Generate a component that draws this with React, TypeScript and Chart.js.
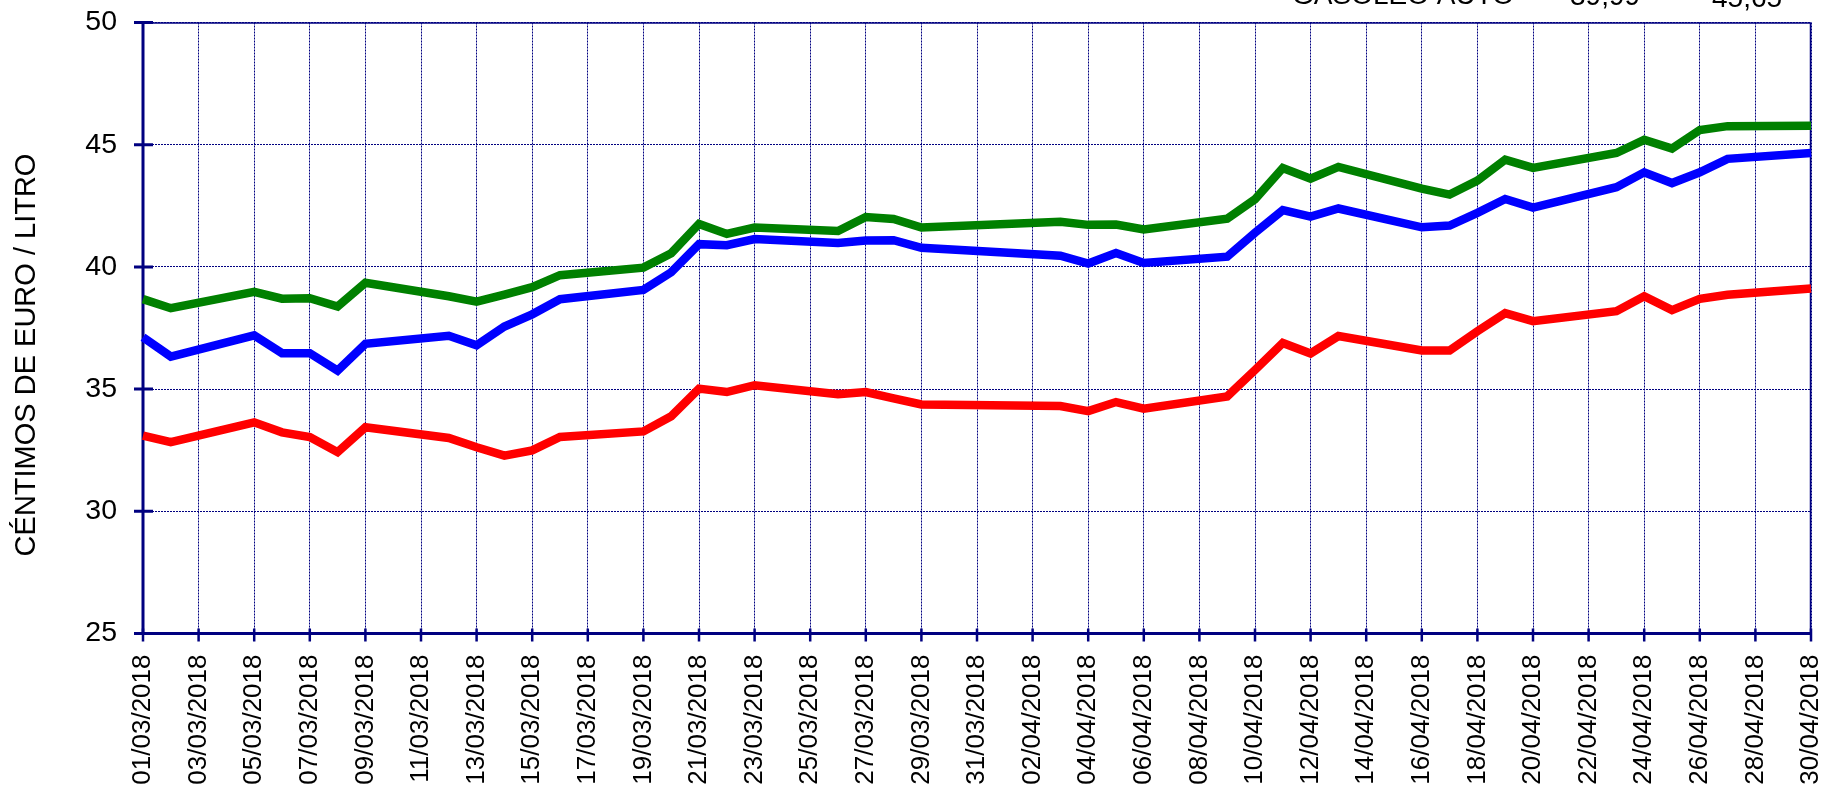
import React, { useEffect, useRef } from "react";
import { Chart, registerables } from "chart.js";

Chart.register(...registerables);

const dates: string[] = [
  "01/03/2018","02/03/2018","03/03/2018","04/03/2018","05/03/2018","06/03/2018","07/03/2018","08/03/2018","09/03/2018","10/03/2018",
  "11/03/2018","12/03/2018","13/03/2018","14/03/2018","15/03/2018","16/03/2018","17/03/2018","18/03/2018","19/03/2018","20/03/2018",
  "21/03/2018","22/03/2018","23/03/2018","24/03/2018","25/03/2018","26/03/2018","27/03/2018","28/03/2018","29/03/2018","30/03/2018",
  "31/03/2018","01/04/2018","02/04/2018","03/04/2018","04/04/2018","05/04/2018","06/04/2018","07/04/2018","08/04/2018","09/04/2018",
  "10/04/2018","11/04/2018","12/04/2018","13/04/2018","14/04/2018","15/04/2018","16/04/2018","17/04/2018","18/04/2018","19/04/2018",
  "20/04/2018","21/04/2018","22/04/2018","23/04/2018","24/04/2018","25/04/2018","26/04/2018","27/04/2018","28/04/2018","29/04/2018",
  "30/04/2018",
];

const N = null;

// Green series
const greenValues: (number | null)[] = [
  38.68, 38.31, N, N, 38.98, 38.70, 38.72, 38.38, 39.35, N,
  N, 38.80, 38.58, 38.87, 39.17, 39.66, N, N, 39.97, 40.56,
  41.76, 41.35, 41.61, N, N, 41.47, 42.04, 41.96, 41.61, N,
  N, N, N, 41.85, 41.72, 41.73, 41.53, N, N, 41.97,
  42.77, 44.05, 43.61, 44.09, N, N, 43.20, 42.96, 43.53, 44.39,
  44.05, N, N, 44.66, 45.20, 44.84, 45.60, 45.76, N, N,
  45.78,
];

// Blue series
const blueValues: (number | null)[] = [
  37.12, 36.33, N, N, 37.20, 36.47, 36.47, 35.76, 36.85, N,
  N, 37.18, 36.79, 37.56, 38.06, 38.68, N, N, 39.06, 39.78,
  40.93, 40.89, 41.14, N, N, 40.98, 41.08, 41.09, 40.78, N,
  N, N, N, 40.46, 40.14, 40.57, 40.16, N, N, 40.42,
  41.40, 42.32, 42.06, 42.39, N, N, 41.62, 41.69, 42.21, 42.78,
  42.43, N, N, 43.26, 43.87, 43.43, 43.87, 44.42, N, N,
  44.66,
];

// Red series
const redValues: (number | null)[] = [
  33.10, 32.83, N, N, 33.64, 33.23, 33.04, 32.42, 33.44, N,
  N, 33.00, 32.62, 32.28, 32.49, 33.04, N, N, 33.27, 33.89,
  35.02, 34.88, 35.16, N, N, 34.79, 34.88, 34.62, 34.37, N,
  N, N, N, 34.31, 34.10, 34.47, 34.20, N, N, 34.70,
  35.78, 36.89, 36.46, 37.17, N, N, 36.58, 36.58, 37.37, 38.11,
  37.78, N, N, 38.19, 38.80, 38.23, 38.69, 38.86, N, N,
  39.12,
];

const yTicks: number[] = [25, 30, 35, 40, 45, 50];
const yTitle = "CÉNTIMOS DE EURO / LITRO";
const headerTexts: string[] = ["GASÓLEO AUTO", "39,99", "45,65"];

const FONT = "'Liberation Sans', Arial, sans-serif";
const NAVY = "#000080";

export default function App() {
  const ref = useRef<HTMLCanvasElement | null>(null);

  useEffect(() => {
    const canvas = ref.current;
    if (!canvas) return;

    const axesPlugin = {
      id: "axesPlugin",
      beforeDatasetsDraw(chart: any) {
        const { ctx, chartArea } = chart;
        const { left, right, top, bottom } = chartArea;
        const ys = chart.scales.y;
        const xs = chart.scales.x;
        ctx.save();
        ctx.setLineDash([]);
        ctx.strokeStyle = NAVY;
        ctx.lineWidth = 1.5;
        ctx.beginPath();
        ctx.moveTo(left, top + 0.5);
        ctx.lineTo(right, top + 0.5);
        ctx.moveTo(right - 0.5, top);
        ctx.lineTo(right - 0.5, bottom);
        ctx.stroke();
        ctx.lineWidth = 3;
        ctx.beginPath();
        ctx.moveTo(left, top);
        ctx.lineTo(left, bottom);
        ctx.moveTo(left - 9, bottom);
        ctx.lineTo(right, bottom);
        ctx.stroke();
        ctx.beginPath();
        for (const v of yTicks) {
          const y = ys.getPixelForValue(v);
          ctx.moveTo(left - 9, y);
          ctx.lineTo(left + 10, y);
        }
        ctx.stroke();
        ctx.lineWidth = 2.5;
        ctx.beginPath();
        for (let i = 0; i < dates.length; i += 2) {
          const x = xs.getPixelForValue(i);
          ctx.moveTo(x, bottom - 5);
          ctx.lineTo(x, bottom + 8);
        }
        ctx.stroke();
        ctx.restore();
      },
      afterDraw(chart: any) {
        const { ctx } = chart;
        ctx.save();
        ctx.fillStyle = "#000";
        ctx.font = `29px ${FONT}`;
        ctx.translate(27, 355);
        ctx.rotate(-Math.PI / 2);
        ctx.textAlign = "center";
        ctx.textBaseline = "middle";
        ctx.fillText(yTitle, 0, 0);
        ctx.restore();

        ctx.save();
        ctx.fillStyle = "#000";
        ctx.font = `28px ${FONT}`;
        ctx.textAlign = "left";
        ctx.textBaseline = "alphabetic";
        ctx.fillText(headerTexts[0], 1292, 4);
        ctx.fillText(headerTexts[1], 1570, 4.5);
        ctx.fillText(headerTexts[2], 1712, 6.5);
        ctx.restore();
      },
    };

    const chart = new Chart(canvas, {
      type: "line",
      data: {
        labels: dates,
        datasets: [
          { label: "verde", data: greenValues, borderColor: "#008000", backgroundColor: "#008000", borderWidth: 8.5, pointRadius: 0, spanGaps: true, tension: 0, fill: false },
          { label: "azul", data: blueValues, borderColor: "#0000FF", backgroundColor: "#0000FF", borderWidth: 8.5, pointRadius: 0, spanGaps: true, tension: 0, fill: false },
          { label: "rojo", data: redValues, borderColor: "#FF0000", backgroundColor: "#FF0000", borderWidth: 8.5, pointRadius: 0, spanGaps: true, tension: 0, fill: false },
        ],
      },
      options: {
        responsive: false,
        animation: false,
        devicePixelRatio: 1,
        layout: { padding: { top: 22.5, right: 15, left: 0, bottom: 0 } },
        plugins: {
          legend: { display: false },
          tooltip: { enabled: false },
          title: { display: false },
        },
        scales: {
          x: {
            type: "category",
            offset: false,
            afterFit: (s: any) => {
              s.height = 785 - 633.5;
              s.paddingLeft = 0;
              s.paddingRight = 0;
              s.paddingTop = 0;
              s.paddingBottom = 0;
            },
            afterBuildTicks: (axis: any) => {
              axis.ticks = axis.ticks.filter((t: any) => t.value % 2 === 0);
            },
            grid: { display: true, color: NAVY, lineWidth: 1, drawTicks: false },
            border: { display: false, dash: [2, 1] },
            ticks: {
              autoSkip: false,
              maxRotation: 90,
              minRotation: 90,
              padding: 21,
              color: "#000",
              font: { family: FONT, size: 26 },
              callback: (value: any) => dates[value as number],
            },
          },
          y: {
            min: 25,
            max: 50,
            afterFit: (s: any) => {
              s.width = 143;
              s.paddingLeft = 0;
              s.paddingRight = 0;
              s.paddingTop = 0;
              s.paddingBottom = 0;
            },
            grid: { display: true, color: NAVY, lineWidth: 1, drawTicks: false },
            border: { display: false, dash: [2, 1] },
            ticks: {
              stepSize: 5,
              padding: 26,
              color: "#000",
              font: { family: FONT, size: 28.5 },
            },
          },
        },
      },
      plugins: [axesPlugin],
    } as any);

    return () => chart.destroy();
  }, []);

  return (
    <canvas
      ref={ref}
      width={1826}
      height={785}
      style={{ position: "fixed", left: 0, top: 0, width: "1826px", height: "785px", background: "#fff" }}
    />
  );
}
